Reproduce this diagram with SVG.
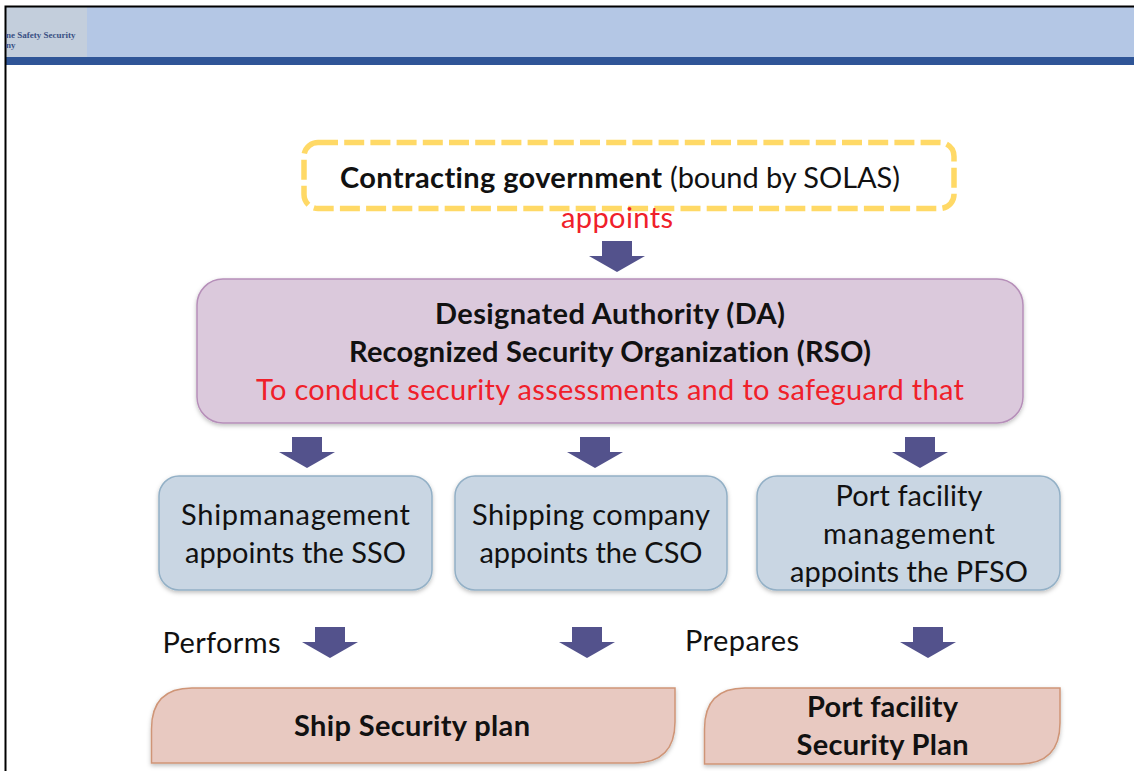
<svg xmlns="http://www.w3.org/2000/svg" width="1134" height="771" viewBox="0 0 1134 771">
<defs>
<filter id="sh" x="-5%" y="-10%" width="110%" height="125%"><feDropShadow dx="0" dy="2" stdDeviation="2" flood-color="#000" flood-opacity="0.25"/></filter>
<polygon id="arr" points="-15,0 15,0 15,15 28,15 0,31 -28,15 -15,15"/>
</defs>
<style>
text{font-family:Lato,"Open Sans","Liberation Sans",sans-serif;fill:#111;font-size:29px;text-anchor:middle;font-variant-ligatures:none}
.b{font-weight:700}
.r{fill:#f0202a}
.arrow{fill:#53528c}
.blue{fill:#c9d6e3;stroke:#93b0c6;stroke-width:1.500;filter:url(#sh)}
.pink{fill:#e8c9c1;stroke:#cf9577;stroke-width:1.500;filter:url(#sh)}
</style>
<rect width="1134" height="771" fill="#fff"/>
<g id="header">
<rect x="6" y="7" width="1128" height="50" fill="#b4c7e5"/>
<rect x="6" y="7" width="81" height="50" fill="#c3cedc"/>
<rect x="6" y="57" width="1128" height="8" fill="#2f5597"/>
<path d="M5.500 771V6.500H1134" fill="none" stroke="#000" stroke-width="2"/>
<text x="6" y="38" style="font-family:'Liberation Serif',serif;font-size:9px;font-weight:700;fill:#3a5084;text-anchor:start">ne Safety Security</text>
<text x="6" y="48" style="font-family:'Liberation Serif',serif;font-size:9px;font-weight:700;fill:#3a5084;text-anchor:start">ny</text>
</g>
<g id="connectors" class="arrow">
<use href="#arr" x="617" y="241"/>
<use href="#arr" x="307" y="437"/>
<use href="#arr" x="595" y="437"/>
<use href="#arr" x="920" y="437"/>
<use href="#arr" x="330" y="627"/>
<use href="#arr" x="587" y="627"/>
<use href="#arr" x="928" y="627"/>
</g>
<g id="contracting">
<rect x="304" y="142.500" width="650" height="66" rx="14" fill="#fff" stroke="#ffd966" stroke-width="5.500" stroke-dasharray="20 6.200"/>
<text x="340" y="188" class="b" style="text-anchor:start" textLength="322">Contracting government</text>
<text x="670" y="188" style="text-anchor:start" textLength="230">(bound by SOLAS)</text>
</g>
<text id="appoints" x="617" y="228" class="r" textLength="112">appoints</text>
<g id="authority">
<rect x="197" y="279" width="826" height="144" rx="26" fill="#dbc9dc" stroke="#b68fb9" stroke-width="1.500" filter="url(#sh)"/>
<text x="610" y="324" class="b" textLength="350">Designated Authority (DA)</text>
<text x="610" y="362" class="b" textLength="522">Recognized Security Organization (RSO)</text>
<text x="610" y="400" class="r" textLength="708">To conduct security assessments and to safeguard that</text>
</g>
<g id="ship-mgmt">
<rect x="159" y="476" width="273" height="114" rx="20" class="blue"/>
<text x="295.500" y="525" textLength="229">Shipmanagement</text>
<text x="295.500" y="563" textLength="221">appoints the SSO</text>
</g>
<g id="shipping-co">
<rect x="455" y="476" width="272" height="114" rx="20" class="blue"/>
<text x="591" y="525" textLength="238">Shipping company</text>
<text x="591" y="563" textLength="223">appoints the CSO</text>
</g>
<g id="port-mgmt">
<rect x="757" y="476" width="303" height="114" rx="20" class="blue"/>
<text x="909" y="506" textLength="147">Port facility</text>
<text x="909" y="544" textLength="172">management</text>
<text x="909" y="582" textLength="238">appoints the PFSO</text>
</g>
<text id="performs" x="221.500" y="653" textLength="118">Performs</text>
<text id="prepares" x="742" y="651" textLength="114">Prepares</text>
<g id="ship-plan">
<path d="M151.500 763V729Q151.500 688 192 688H675V722Q675 763 634 763Z" class="pink"/>
<text x="412" y="736" class="b" textLength="236">Ship Security plan</text>
</g>
<g id="port-plan">
<path d="M704.500 764V729Q704.500 688 745 688H1060V723Q1060 764 1019 764Z" class="pink"/>
<text x="882.500" y="717" class="b" textLength="151">Port facility</text>
<text x="882.500" y="755" class="b" textLength="172">Security Plan</text>
</g>
</svg>
